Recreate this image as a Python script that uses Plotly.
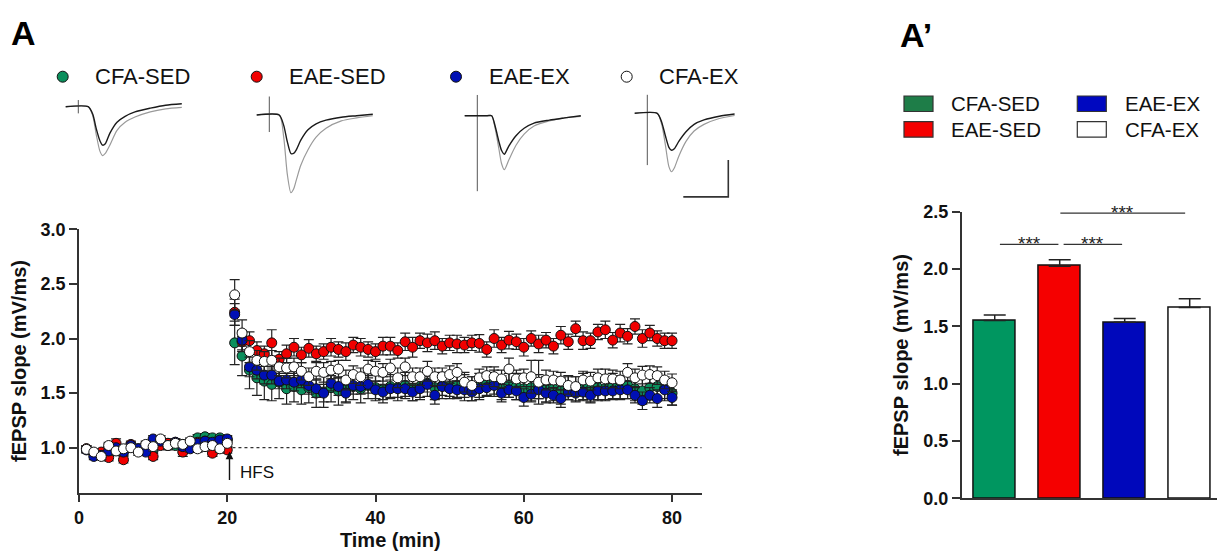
import plotly.graph_objects as go

W, H = 1217, 551


def fx(px):
    return px / W


def fy(py):
    return 1 - py / H


FONT = "Liberation Sans"
TXT = "#111111"

# ---------------- data ----------------
groups = ["CFA-SED", "EAE-SED", "EAE-EX", "CFA-EX"]
time_min = list(range(1, 81))
xticks_time = [0, 20, 40, 60, 80]
yticks_ltp = [1.0, 1.5, 2.0, 2.5, 3.0]
yticks_bar = [0.0, 0.5, 1.0, 1.5, 2.0, 2.5]

cfa_sed_base = [0.99, 0.95, 0.94, 1.00, 0.98, 0.97, 1.01, 0.99, 1.02, 0.98,
                1.03, 1.04, 1.02, 1.03, 1.05, 1.09, 1.10, 1.09, 1.09, 1.07]
cfa_sed_post = [1.96, 1.84, 1.71, 1.64, 1.61, 1.58, 1.60, 1.54, 1.56, 1.53,
                1.55, 1.50, 1.51, 1.55, 1.52, 1.53, 1.56, 1.54, 1.57, 1.55,
                1.53, 1.56, 1.55, 1.57, 1.54, 1.56, 1.59, 1.55, 1.57, 1.56,
                1.57, 1.55, 1.54, 1.56, 1.58, 1.59, 1.55, 1.57, 1.56, 1.54,
                1.55, 1.56, 1.53, 1.54, 1.52, 1.55, 1.54, 1.56, 1.53, 1.55,
                1.54, 1.56, 1.55, 1.57, 1.54, 1.52, 1.55, 1.56, 1.54, 1.50]
eae_sed_base = [0.99, 0.95, 0.96, 0.91, 1.04, 0.89, 1.03, 0.98, 1.00, 0.92,
                1.02, 1.04, 1.05, 0.96, 1.03, 1.05, 1.06, 0.95, 1.02, 0.98]
eae_sed_post = [2.24, 1.97, 1.98, 1.89, 1.86, 1.96, 1.81, 1.86, 1.92, 1.85,
                1.91, 1.86, 1.88, 1.92, 1.90, 1.88, 1.94, 1.92, 1.90, 1.88,
                1.93, 1.93, 1.89, 1.97, 1.92, 1.98, 1.96, 1.98, 1.93, 1.96,
                1.95, 1.94, 1.96, 1.955, 1.90, 2.00, 1.94, 1.985, 1.97, 1.92,
                2.00, 1.95, 1.985, 1.93, 2.03, 1.97, 2.09, 1.98, 1.98, 2.06,
                2.08, 1.985, 2.05, 2.02, 2.11, 2.00, 2.05, 2.00, 1.98, 1.98]
eae_ex_base = [0.98, 0.92, 0.93, 0.97, 1.00, 0.96, 1.02, 0.99, 0.96, 1.08,
               1.06, 1.02, 1.05, 1.01, 0.99, 1.04, 1.06, 1.05, 1.07, 1.08]
eae_ex_post = [2.22, 1.985, 1.74, 1.71, 1.665, 1.665, 1.61, 1.62, 1.60, 1.62,
               1.57, 1.54, 1.50, 1.59, 1.56, 1.50, 1.57, 1.56, 1.58, 1.53,
               1.51, 1.54, 1.54, 1.54, 1.51, 1.54, 1.58, 1.48, 1.56, 1.54,
               1.53, 1.53, 1.51, 1.54, 1.55, 1.57, 1.50, 1.53, 1.52, 1.46,
               1.49, 1.53, 1.50, 1.48, 1.45, 1.51, 1.50, 1.51, 1.48, 1.52,
               1.52, 1.52, 1.53, 1.53, 1.48, 1.43, 1.48, 1.45, 1.53, 1.46]
cfa_ex_base = [0.985, 0.96, 0.92, 1.02, 0.97, 0.99, 1.00, 0.96, 1.03, 1.01,
               1.08, 1.02, 1.04, 1.03, 1.06, 0.99, 1.01, 1.02, 0.99, 1.04]
cfa_ex_post = [2.40, 2.05, 1.88, 1.80, 1.79, 1.80, 1.74, 1.73, 1.74, 1.70,
               1.65, 1.70, 1.69, 1.71, 1.72, 1.62, 1.67, 1.65, 1.72, 1.70,
               1.69, 1.73, 1.64, 1.74, 1.65, 1.65, 1.70, 1.65, 1.65, 1.67,
               1.69, 1.60, 1.57, 1.64, 1.66, 1.65, 1.63, 1.72, 1.63, 1.64,
               1.65, 1.60, 1.62, 1.62, 1.61, 1.57, 1.56, 1.62, 1.61, 1.64,
               1.63, 1.63, 1.62, 1.69, 1.64, 1.665, 1.67, 1.66, 1.62, 1.595]

cfa_sed_sem_base = [0.03, 0.03, 0.03, 0.04, 0.03, 0.03, 0.04, 0.03, 0.03, 0.03,
                    0.04, 0.03, 0.03, 0.03, 0.03, 0.03, 0.03, 0.02, 0.03, 0.03]
cfa_sed_sem_post = [0.20, 0.18, 0.17, 0.16, 0.17, 0.15, 0.15, 0.14, 0.14, 0.13,
                    0.14, 0.13, 0.14, 0.13, 0.13, 0.12, 0.12, 0.13, 0.12, 0.12,
                    0.12, 0.11, 0.12, 0.12, 0.11, 0.12, 0.12, 0.11, 0.12, 0.11,
                    0.11, 0.12, 0.11, 0.12, 0.11, 0.12, 0.11, 0.11, 0.12, 0.11,
                    0.12, 0.11, 0.12, 0.11, 0.12, 0.11, 0.11, 0.12, 0.11, 0.12,
                    0.11, 0.12, 0.11, 0.12, 0.11, 0.12, 0.11, 0.12, 0.11, 0.11]
eae_sed_sem_base = [0.03, 0.04, 0.03, 0.03, 0.04, 0.03, 0.03, 0.03, 0.04, 0.03,
                    0.03, 0.03, 0.03, 0.04, 0.03, 0.03, 0.03, 0.03, 0.03, 0.03]
eae_sed_sem_post = [0.12, 0.09, 0.08, 0.08, 0.07, 0.12, 0.07, 0.08, 0.08, 0.07,
                    0.08, 0.07, 0.07, 0.08, 0.07, 0.08, 0.07, 0.08, 0.07, 0.07,
                    0.08, 0.08, 0.07, 0.08, 0.09, 0.07, 0.08, 0.08, 0.07, 0.07,
                    0.08, 0.07, 0.07, 0.08, 0.07, 0.08, 0.07, 0.08, 0.07, 0.08,
                    0.07, 0.08, 0.07, 0.07, 0.08, 0.07, 0.07, 0.08, 0.07, 0.07,
                    0.08, 0.07, 0.08, 0.07, 0.07, 0.08, 0.07, 0.07, 0.07, 0.07]
eae_ex_sem_base = [0.03, 0.03, 0.04, 0.03, 0.03, 0.03, 0.03, 0.04, 0.03, 0.03,
                   0.03, 0.04, 0.03, 0.03, 0.03, 0.03, 0.03, 0.03, 0.03, 0.03]
eae_ex_sem_post = [0.10, 0.09, 0.09, 0.08, 0.08, 0.08, 0.07, 0.08, 0.08, 0.07,
                   0.08, 0.08, 0.08, 0.07, 0.08, 0.08, 0.08, 0.07, 0.08, 0.08,
                   0.07, 0.08, 0.08, 0.07, 0.08, 0.08, 0.07, 0.08, 0.08, 0.07,
                   0.08, 0.07, 0.08, 0.08, 0.07, 0.08, 0.08, 0.07, 0.08, 0.08,
                   0.07, 0.08, 0.08, 0.07, 0.08, 0.07, 0.08, 0.08, 0.07, 0.08,
                   0.08, 0.07, 0.08, 0.08, 0.07, 0.08, 0.07, 0.08, 0.08, 0.07]
cfa_ex_sem_base = [0.03, 0.03, 0.03, 0.03, 0.04, 0.03, 0.03, 0.03, 0.03, 0.04,
                   0.03, 0.03, 0.03, 0.03, 0.03, 0.03, 0.04, 0.03, 0.03, 0.03]
cfa_ex_sem_post = [0.14, 0.12, 0.10, 0.09, 0.09, 0.09, 0.08, 0.09, 0.08, 0.08,
                   0.08, 0.08, 0.09, 0.08, 0.08, 0.09, 0.08, 0.08, 0.08, 0.09,
                   0.08, 0.08, 0.09, 0.08, 0.08, 0.08, 0.09, 0.08, 0.08, 0.08,
                   0.08, 0.09, 0.08, 0.08, 0.08, 0.09, 0.08, 0.10, 0.08, 0.08,
                   0.15, 0.20, 0.09, 0.08, 0.08, 0.08, 0.09, 0.08, 0.08, 0.08,
                   0.09, 0.08, 0.08, 0.08, 0.08, 0.08, 0.08, 0.08, 0.08, 0.08]

bar_means = [1.55, 2.025, 1.535, 1.665]
bar_sem = [0.05, 0.055, 0.033, 0.075]

# representative fEPSP traces (ms after stimulus, mV)
trace_t_ms = [-1.4, 1.1, 1.6, 2.0, 2.4, 2.7, 3.0, 3.5, 4.3, 5.2, 6.3, 8.0, 9.7, 11.5]
cfa_sed_before = [0, 0, -0.10, -0.30, -0.46, -0.52, -0.50, -0.36, -0.21, -0.13, -0.07, -0.02, 0.02, 0.04]
cfa_sed_after = [0, 0, -0.12, -0.38, -0.60, -0.66, -0.63, -0.52, -0.32, -0.21, -0.14, -0.07, -0.03, -0.01]
eae_sed_before = [0, 0, -0.14, -0.36, -0.52, -0.52, -0.47, -0.34, -0.20, -0.12, -0.07, -0.03, -0.01, 0.01]
eae_sed_after = [0, 0, -0.30, -0.80, -1.05, -1.00, -0.88, -0.68, -0.47, -0.30, -0.18, -0.08, -0.04, -0.01]
eae_ex_before = [0, 0, 0, -0.15, -0.35, -0.47, -0.52, -0.41, -0.27, -0.17, -0.10, -0.06, -0.03, 0]
eae_ex_after = [0, 0, 0, -0.18, -0.45, -0.65, -0.73, -0.60, -0.40, -0.25, -0.14, -0.07, -0.03, -0.01]
cfa_ex_before = [0, 0, -0.12, -0.30, -0.46, -0.50, -0.48, -0.38, -0.25, -0.15, -0.09, -0.04, -0.01, None]
cfa_ex_after = [0, 0, -0.15, -0.42, -0.72, -0.79, -0.74, -0.58, -0.38, -0.24, -0.15, -0.07, -0.03, None]
artifact_top = [0.09, 0.25, 0.28, 0.25]
artifact_bottom = [-0.09, -0.23, -1.02, -0.70]
scale_ms = 5
scale_mv = 0.5

# ---------------- style ----------------
marker_colors = ["#0b8f5c", "#f00000", "#0010b4", "#ffffff"]
bar_colors = ["#009660", "#f50000", "#0008bb", "#ffffff"]
swatch_colors = ["#1e7d48", "#f50000", "#0008c0", "#ffffff"]

series = [cfa_sed_base + cfa_sed_post, eae_sed_base + eae_sed_post,
          eae_ex_base + eae_ex_post, cfa_ex_base + cfa_ex_post]
sems = [cfa_sed_sem_base + cfa_sed_sem_post, eae_sed_sem_base + eae_sed_sem_post,
        eae_ex_sem_base + eae_ex_sem_post, cfa_ex_sem_base + cfa_ex_sem_post]

fig = go.Figure()

# ---------------- time course ----------------
for name, vals, err, col in zip(groups, series, sems, marker_colors):
    fig.add_trace(go.Scatter(
        x=time_min, y=vals, mode="markers", name=name, showlegend=False,
        marker=dict(size=10, color=col, line=dict(color="#111111", width=1)),
        error_y=dict(type="data", array=err, color="#222222", thickness=1.2, width=5),
        xaxis="x", yaxis="y", cliponaxis=False,
    ))

# ---------------- bars ----------------
for i, (name, m, e, col) in enumerate(zip(groups, bar_means, bar_sem, bar_colors)):
    fig.add_trace(go.Bar(
        x=[i], y=[m], name=name, showlegend=False, width=0.657,
        marker=dict(color=col, line=dict(color="#111111", width=1.5)),
        error_y=dict(type="data", symmetric=False, array=[e], arrayminus=[0],
                     color="#222222", thickness=1.5, width=11),
        xaxis="x2", yaxis="y2",
    ))

# ---------------- example traces ----------------
art_px = [78.3, 269.3, 477.3, 647.3]
base_px = [106.7, 115.0, 115.7, 113.3]
PX_MS, PX_MV = 9.0, 74.0
T_RANGE = [-2, 12]
V_RANGE = [-1.25, 0.4]
befores = [cfa_sed_before, eae_sed_before, eae_ex_before, cfa_ex_before]
afters = [cfa_sed_after, eae_sed_after, eae_ex_after, cfa_ex_after]
layout_axes = {}
for k in range(4):
    n = k + 3
    xa, ya = f"x{n}", f"y{n}"
    fig.add_trace(go.Scatter(x=[0, 0], y=[artifact_top[k], artifact_bottom[k]], mode="lines",
                             line=dict(color="#555555", width=1), showlegend=False,
                             xaxis=xa, yaxis=ya, hoverinfo="skip"))
    fig.add_trace(go.Scatter(x=trace_t_ms, y=afters[k], mode="lines",
                             line=dict(color="#9a9a9a", width=1.2, shape="spline", smoothing=0.7),
                             showlegend=False, xaxis=xa, yaxis=ya, hoverinfo="skip"))
    fig.add_trace(go.Scatter(x=trace_t_ms, y=befores[k], mode="lines",
                             line=dict(color="#1a1a1a", width=1.4, shape="spline", smoothing=0.7),
                             showlegend=False, xaxis=xa, yaxis=ya, hoverinfo="skip"))
    x0 = art_px[k] + T_RANGE[0] * PX_MS
    x1 = art_px[k] + T_RANGE[1] * PX_MS
    y_top = base_px[k] - V_RANGE[1] * PX_MV
    y_bot = base_px[k] - V_RANGE[0] * PX_MV
    layout_axes[f"xaxis{n}"] = dict(domain=[fx(x0), fx(x1)], range=T_RANGE, visible=False,
                                    anchor=ya, fixedrange=True, automargin=False)
    layout_axes[f"yaxis{n}"] = dict(domain=[fy(y_bot), fy(y_top)], range=V_RANGE, visible=False,
                                    anchor=xa, fixedrange=True, automargin=False)

# scale bar (5 ms / 0.5 mV) in last trace panel
sb_x, sb_y = 9.0, -1.13
fig.add_trace(go.Scatter(x=[sb_x - scale_ms, sb_x, sb_x], y=[sb_y, sb_y, sb_y + scale_mv],
                         mode="lines", line=dict(color="#333333", width=1.6),
                         showlegend=False, xaxis="x6", yaxis="y6", hoverinfo="skip"))

# ---------------- layout ----------------
tickfont = dict(family=FONT, size=18, color=TXT, weight="bold")
titlefont = dict(family=FONT, size=20, color=TXT, weight="bold")

shapes = []
annotations = []

# baseline dashed line
shapes.append(dict(type="line", xref="x", yref="y", x0=20.7, x1=84, y0=1.0, y1=1.0,
                   line=dict(color="#333333", width=1.2, dash="3px,3px"), layer="below"))

# HFS arrow
annotations.append(dict(x=20.3, y=0.965, ax=20.3, ay=0.69, xref="x", yref="y",
                        axref="x", ayref="y", text="", showarrow=True, arrowhead=2,
                        arrowsize=1.1, arrowwidth=1.4, arrowcolor="#111111"))
annotations.append(dict(x=21.5, y=0.775, xref="x", yref="y", text="HFS", showarrow=False,
                        xanchor="left", yanchor="middle",
                        font=dict(family=FONT, size=17, color=TXT)))

# significance brackets (lines in data units, stars just above)
sig = [(0.08, 0.98, 2.215), (1.06, 1.96, 2.215), (1.01, 2.93, 2.488)]
bar_y0_px, bar_y1_px = 498.3, 211.7
for a, b, yl in sig:
    shapes.append(dict(type="line", xref="x2", yref="y2", x0=a, x1=b, y0=yl, y1=yl,
                       line=dict(color="#333333", width=1.4)))
    line_px = bar_y0_px - yl / 2.5 * (bar_y0_px - bar_y1_px)
    annotations.append(dict(x=(a + b) / 2, y=fy(line_px - 1), xref="x2", yref="paper",
                            text="***", showarrow=False, xanchor="center", yanchor="middle",
                            font=dict(family=FONT, size=19, color="#222222")))

# panel labels
annotations.append(dict(x=fx(9), y=fy(33), xref="paper", yref="paper", text="A",
                        showarrow=False, xanchor="left", yanchor="middle",
                        font=dict(family=FONT, size=34, color="#000000", weight="bold")))
annotations.append(dict(x=fx(898), y=fy(35), xref="paper", yref="paper", text="A\u2019",
                        showarrow=False, xanchor="left", yanchor="middle",
                        font=dict(family=FONT, size=34, color="#000000", weight="bold")))

# top circle legend
leg_circ_x = [62.7, 256.7, 456.0, 626.7]
leg_text_x = [93.3, 286.7, 487.3, 657.3]
leg_y = 76.7
for name, col, cx, tx in zip(groups, marker_colors, leg_circ_x, leg_text_x):
    shapes.append(dict(type="circle", xref="paper", yref="paper",
                       x0=fx(cx - 5.5), x1=fx(cx + 5.5), y0=fy(leg_y + 5.5), y1=fy(leg_y - 5.5),
                       fillcolor=col, line=dict(color="#111111", width=1)))
    annotations.append(dict(x=fx(tx), y=fy(leg_y), xref="paper", yref="paper", text=name,
                            showarrow=False, xanchor="left", yanchor="middle",
                            font=dict(family=FONT, size=22, color=TXT)))

# bar legend (two columns)
sw_x = [904.0, 904.0, 1077.3, 1077.3]
sw_y = [96.0, 121.7, 96.0, 121.7]
txt_x = [949.3, 949.3, 1122.7, 1122.7]
for name, col, sx, sy, tx in zip(groups, swatch_colors, sw_x, sw_y, txt_x):
    shapes.append(dict(type="rect", xref="paper", yref="paper",
                       x0=fx(sx), x1=fx(sx + 29), y0=fy(sy + 15.5), y1=fy(sy),
                       fillcolor=col, line=dict(color="#333333", width=1.2)))
    annotations.append(dict(x=fx(tx), y=fy(sy + 8), xref="paper", yref="paper", text=name,
                            showarrow=False, xanchor="left", yanchor="middle",
                            font=dict(family=FONT, size=20.5, color=TXT)))

axis_common = dict(showline=True, linecolor="#333333", linewidth=1.5, showgrid=False,
                   zeroline=False, automargin=False)
fig.update_layout(
    width=W, height=H, margin=dict(l=0, r=0, t=0, b=0, pad=0, autoexpand=False),
    paper_bgcolor="white", plot_bgcolor="white", showlegend=False,
    font=dict(family=FONT, color=TXT),
    xaxis=dict(domain=[fx(79), fx(701.7)], range=[0, 84], anchor="y",
               ticks="outside", ticklen=8, tickwidth=1.5, tickcolor="#333333",
               tickvals=xticks_time, tickfont=tickfont,
               title=dict(text="Time (min)", font=titlefont, standoff=9), **axis_common),
    yaxis=dict(domain=[fy(492.7), fy(229.3)], range=[0.588, 3.0], anchor="x",
               ticks="outside", ticklen=8, tickwidth=1.5, tickcolor="#333333",
               tickvals=yticks_ltp, tickformat=".1f", tickfont=tickfont,
               title=dict(text="fEPSP slope (mV/ms)", font=titlefont, standoff=9), **axis_common),
    xaxis2=dict(domain=[fx(961.7), 1.0], range=[-0.508, 3.42], anchor="y2",
                ticks="", showticklabels=False, **axis_common),
    yaxis2=dict(domain=[fy(498.3), fy(211.7)], range=[0, 2.5], anchor="x2",
                ticks="outside", ticklen=8, tickwidth=1.5, tickcolor="#333333",
                tickvals=yticks_bar, tickformat=".1f", tickfont=tickfont,
                title=dict(text="fEPSP slope (mV/ms)", font=titlefont, standoff=9), **axis_common),
    shapes=shapes, annotations=annotations, bargap=0,
    **layout_axes,
)

fig.write_html("out.html", config={"displayModeBar": False},
               post_script="document.body.style.margin='0';document.body.style.overflow='hidden';")
